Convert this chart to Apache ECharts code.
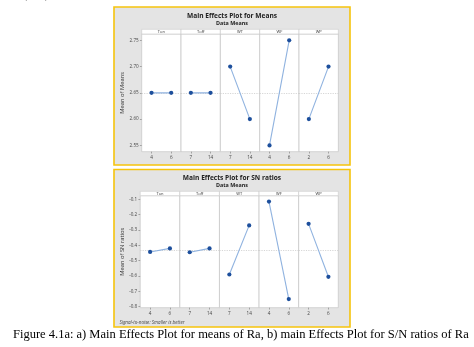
<!DOCTYPE html>
<html>
<head>
<meta charset="utf-8">
<script src="https://cdn.jsdelivr.net/npm/echarts@6/dist/echarts.min.js"></script>
<style>
  html, body { margin: 0; padding: 0; background: #fff; }
  #chart { width: 474px; height: 347px; }
</style>
</head>
<body>
<div id="chart"></div>
<script>
// Factors and their two levels
const factors = ['Ton', 'Toff', 'WT', 'WF', 'WP'];
const levels = [['4', '6'], ['7', '14'], ['7', '14'], ['4', '6'], ['2', '6']];

// Mean of means for each factor level
const meansValues = [[2.65, 2.65], [2.65, 2.65], [2.70, 2.60], [2.55, 2.75], [2.60, 2.70]];
const meansGrand = 2.65;
const meansTicks = [2.55, 2.60, 2.65, 2.70, 2.75];

// Mean of SN ratios for each factor level
const snValues = [[-0.443, -0.42], [-0.445, -0.42], [-0.59, -0.27], [-0.115, -0.75], [-0.26, -0.605]];
const snGrand = -0.432;
const snTicks = [-0.8, -0.7, -0.6, -0.5, -0.4, -0.3, -0.2, -0.1];

const FONT = 'Open Sans';
const chart = echarts.init(document.getElementById('chart'), null, { renderer: 'canvas' });

const grids = [], xAxes = [], yAxes = [], series = [], graphics = [];

// Outer framed boxes
function frame(x, y, w, h) {
  graphics.push({ type: 'rect', z: -10, shape: { x, y, width: w, height: h },
    style: { fill: '#e4e4e4', stroke: '#f6c40c', lineWidth: 1.6 } });
}
frame(114, 7, 236, 158);
frame(114, 169.5, 236, 157.5);

function panelSet(cfg) {
  const { left, top, pw, ph, stripH, values, grand, ticks, range, name, decimals } = cfg;
  factors.forEach((f, i) => {
    const gi = grids.length;
    const x = left + i * pw;
    grids.push({ left: x, top: top, width: pw, height: ph, show: true,
      backgroundColor: '#ffffff', borderColor: '#c9c9c9', borderWidth: 0.8, containLabel: false });
    xAxes.push({ type: 'category', gridIndex: gi, data: levels[i], boundaryGap: true,
      axisLine: { show: false },
      axisTick: { show: true, alignWithLabel: true, length: 1.8, lineStyle: { color: '#777', width: 0.6 } },
      axisLabel: { fontFamily: FONT, fontSize: 4.6, color: '#444', margin: 3 },
      splitLine: { show: false } });
    yAxes.push({ type: 'value', gridIndex: gi, min: range[0], max: range[1],
      name: i === 0 ? name : '', nameLocation: 'middle', nameGap: 15,
      nameTextStyle: { fontFamily: FONT, fontSize: 5.8, color: '#333' },
      axisLine: { show: false },
      axisTick: { show: i === 0, length: 1.8, customValues: ticks, lineStyle: { color: '#777', width: 0.6 } },
      axisLabel: { show: i === 0, customValues: ticks, fontFamily: FONT, fontSize: 4.6, color: '#444', margin: 3,
        formatter: v => v.toFixed(decimals) },
      splitLine: { show: false } });
    series.push({ type: 'line', xAxisIndex: gi, yAxisIndex: gi, data: values[i],
      symbol: 'circle', symbolSize: 4.2, z: 5,
      itemStyle: { color: '#1d4f9c' },
      lineStyle: { color: '#8fb2df', width: 1.1 },
      markLine: { silent: true, symbol: 'none', label: { show: false }, z: 3,
        lineStyle: { color: '#cccccc', type: [1.2, 1.2], width: 0.8 },
        data: [{ yAxis: grand }] } });
    // strip header above each panel
    graphics.push({ type: 'rect', z: 10, shape: { x: x, y: top - stripH, width: pw, height: stripH },
      style: { fill: '#ffffff', stroke: '#c9c9c9', lineWidth: 0.6 } });
    graphics.push({ type: 'text', z: 11, x: x + pw / 2, y: top - stripH / 2,
      style: { text: f, fontFamily: FONT, fontSize: 4, fill: '#333', align: 'center', verticalAlign: 'middle' } });
  });
}

panelSet({ left: 141.7, top: 34, pw: 39.33, ph: 117.7, stripH: 4.7, values: meansValues, grand: meansGrand,
  ticks: meansTicks, range: [2.538, 2.762], name: 'Mean of Means', decimals: 2 });
panelSet({ left: 140.2, top: 195.7, pw: 39.62, ph: 112, stripH: 4.4, values: snValues, grand: snGrand,
  ticks: snTicks, range: [-0.8065, -0.0765], name: 'Mean of SN ratios', decimals: 1 });

// Titles
function titleText(t, x, y, size) {
  graphics.push({ type: 'text', z: 11, x, y,
    style: { text: t, fontFamily: FONT, fontWeight: 'bold', fontSize: size, fill: '#222', align: 'center', verticalAlign: 'middle' } });
}
titleText('Main Effects Plot for Means', 232, 15.7, 6.6);
titleText('Data Means', 232, 23, 5.4);
titleText('Main Effects Plot for SN ratios', 232, 178.3, 6.6);
titleText('Data Means', 232, 185, 5.4);

graphics.push({ type: 'text', z: 11, x: 119.5, y: 322.3,
  style: { text: 'Signal-to-noise: Smaller is better', fontFamily: FONT, fontStyle: 'italic', fontSize: 4.6,
    fill: '#444', align: 'left', verticalAlign: 'middle' } });

// Caption and running text
graphics.push({ type: 'text', z: 11, x: 13, y: 335,
  style: { text: 'Figure 4.1a: a) Main Effects Plot for means of Ra, b) main Effects Plot for S/N ratios of Ra',
    fontFamily: 'Liberation Serif', fontSize: 12.5, fill: '#000', align: 'left', verticalAlign: 'middle' } });
graphics.push({ type: 'text', z: 11, x: 0, y: -5,
  style: { text: 'ame (501).', fontFamily: 'Liberation Serif', fontSize: 12, fill: '#000', align: 'left', verticalAlign: 'middle' } });

chart.setOption({
  animation: false,
  backgroundColor: '#ffffff',
  grid: grids,
  xAxis: xAxes,
  yAxis: yAxes,
  series: series,
  graphic: { elements: graphics }
});
</script>
</body>
</html>
